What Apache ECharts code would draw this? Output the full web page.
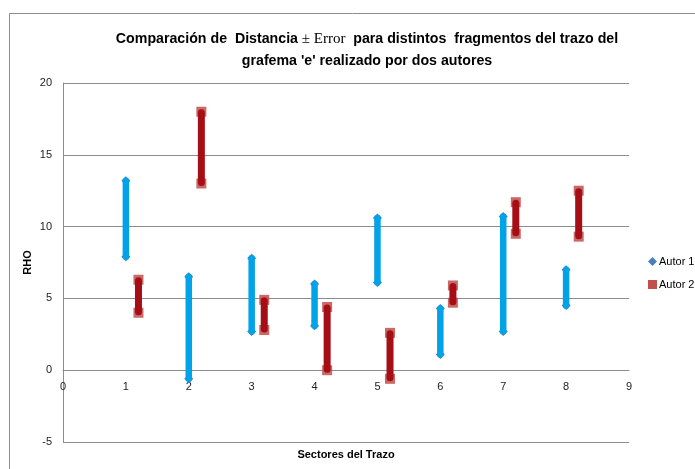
<!DOCTYPE html>
<html>
<head>
<meta charset="utf-8">
<script src="https://cdn.jsdelivr.net/npm/echarts@6/dist/echarts.min.js"></script>
<style>
  html, body { margin: 0; padding: 0; background: #fff; }
  #chart { width: 695px; height: 469px; }
</style>
</head>
<body>
<div id="chart"></div>
<script>
// sectores del trazo
const autor1X = [1, 2, 3, 4, 5, 6, 7, 8];
const autor1Low = [7.9, -0.6, 2.7, 3.1, 6.1, 1.1, 2.7, 4.5];
const autor1High = [13.2, 6.5, 7.8, 6.0, 10.6, 4.3, 10.7, 7.0];

const autor2X = [1.2, 2.2, 3.2, 4.2, 5.2, 6.2, 7.2, 8.2];
const autor2Low = [4.0, 13.0, 2.8, 0.0, -0.6, 4.7, 9.5, 9.3];
const autor2High = [6.3, 18.0, 4.9, 4.4, 2.6, 5.9, 11.7, 12.5];

const yTicks = [-5, 0, 5, 10, 15, 20];
const xTicks = [0, 1, 2, 3, 4, 5, 6, 7, 8, 9];

const FONT = "'Liberation Sans', sans-serif";
const GRID = { left: 63, right: 66, top: 83, bottom: 27 };
const CH = 469;

// the x axis crosses at y = 0 (onZero is not picked up here, so shift it)
const yMin = yTicks[0], yMax = yTicks[yTicks.length - 1];
const gridH = CH - GRID.top - GRID.bottom;
const xAxisOffset = -((0 - yMin) / (yMax - yMin)) * gridH;

function rangeData(xs, lo, hi) {
  return xs.map((x, i) => [x, lo[i], hi[i]]);
}

function blueBar(params, api) {
  const x = api.value(0);
  const top = api.coord([x, api.value(2)]);
  const bot = api.coord([x, api.value(1)]);
  const d = (p, s) => ({
    type: "polygon",
    shape: { points: [[p[0], p[1] - s], [p[0] + s, p[1]], [p[0], p[1] + s], [p[0] - s, p[1]]] },
    style: { fill: "#4a7ebb" }
  });
  return {
    type: "group",
    children: [
      d(top, 4.5),
      d(bot, 4.5),
      {
        type: "line",
        shape: { x1: top[0], y1: top[1], x2: bot[0], y2: bot[1] },
        style: { stroke: "#00a2e8", lineWidth: 6.5, lineCap: "round" }
      }
    ]
  };
}

function redBar(params, api) {
  const x = api.value(0);
  const top = api.coord([x, api.value(2)]);
  const bot = api.coord([x, api.value(1)]);
  const sq = (p) => ({
    type: "rect",
    shape: { x: p[0] - 5, y: p[1] - 5, width: 10, height: 10 },
    style: { fill: "rgba(192,80,77,0.85)" }
  });
  return {
    type: "group",
    children: [
      sq(top),
      sq(bot),
      {
        type: "line",
        shape: { x1: top[0], y1: top[1] + 1, x2: bot[0], y2: bot[1] - 1 },
        style: { stroke: "#a50e14", lineWidth: 7, lineCap: "round" }
      }
    ]
  };
}

const chart = echarts.init(document.getElementById("chart"));
const option = {
  animation: false,
  backgroundColor: "#fff",
  graphic: [
    {
      type: "rect",
      shape: { x: 9.5, y: 13.5, width: 720, height: 500 },
      style: { fill: "none", stroke: "#8c8c8c", lineWidth: 1 }
    }
  ],
  title: {
    left: 362,
    top: 23,
    textAlign: "center",
    text: "Comparación de  Distancia{s| ± Error}  para distintos  fragmentos del trazo del\ngrafema 'e' realizado por dos autores",
    textStyle: {
      fontFamily: FONT,
      fontWeight: "bold",
      fontSize: 14.2,
      lineHeight: 22,
      color: "#000",
      rich: {
        s: { fontFamily: "'Liberation Serif', serif", fontWeight: "normal", fontSize: 15, color: "#000" }
      }
    }
  },
  legend: {
    orient: "vertical",
    left: 648,
    top: 256,
    padding: 0,
    itemWidth: 9,
    itemHeight: 9,
    itemGap: 12,
    textStyle: { fontFamily: FONT, fontSize: 11, color: "#000", padding: [0, 0, 0, -3], overflow: "none" },
    data: [
      { name: "Autor 1", icon: "diamond", itemStyle: { color: "#4a7ebb" } },
      { name: "Autor 2", icon: "rect", itemStyle: { color: "#c0504d" } }
    ]
  },
  grid: Object.assign({ containLabel: false, outerBoundsMode: "none" }, GRID),
  xAxis: {
    type: "value",
    min: xTicks[0],
    max: xTicks[xTicks.length - 1],
    interval: 1,
    offset: xAxisOffset,
    name: "Sectores del Trazo",
    nameLocation: "middle",
    nameGap: 79,
    nameMoveOverlap: false,
    nameTextStyle: { fontFamily: FONT, fontWeight: "bold", fontSize: 11, color: "#000" },
    axisLine: { show: true, onZero: false, lineStyle: { color: "#8c8c8c" } },
    axisTick: { show: false },
    axisLabel: { fontFamily: FONT, fontSize: 11, color: "#222", margin: 11 },
    splitLine: { show: false }
  },
  yAxis: {
    type: "value",
    min: yMin,
    max: yMax,
    interval: 5,
    name: "RHO",
    nameLocation: "middle",
    nameGap: 30,
    nameMoveOverlap: false,
    nameTextStyle: { fontFamily: FONT, fontWeight: "bold", fontSize: 11, color: "#000" },
    axisLine: { show: true, onZero: false, lineStyle: { color: "#8c8c8c" } },
    axisTick: { show: false },
    axisLabel: { fontFamily: FONT, fontSize: 11, color: "#222", margin: 11 },
    splitLine: { show: true, lineStyle: { color: "#8c8c8c", width: 1 } }
  },
  series: [
    {
      name: "Autor 1",
      type: "custom",
      renderItem: blueBar,
      encode: { x: 0, y: [1, 2] },
      data: rangeData(autor1X, autor1Low, autor1High),
      z: 3
    },
    {
      name: "Autor 2",
      type: "custom",
      renderItem: redBar,
      encode: { x: 0, y: [1, 2] },
      data: rangeData(autor2X, autor2Low, autor2High),
      z: 4
    }
  ]
};
chart.setOption(option);
</script>
</body>
</html>
